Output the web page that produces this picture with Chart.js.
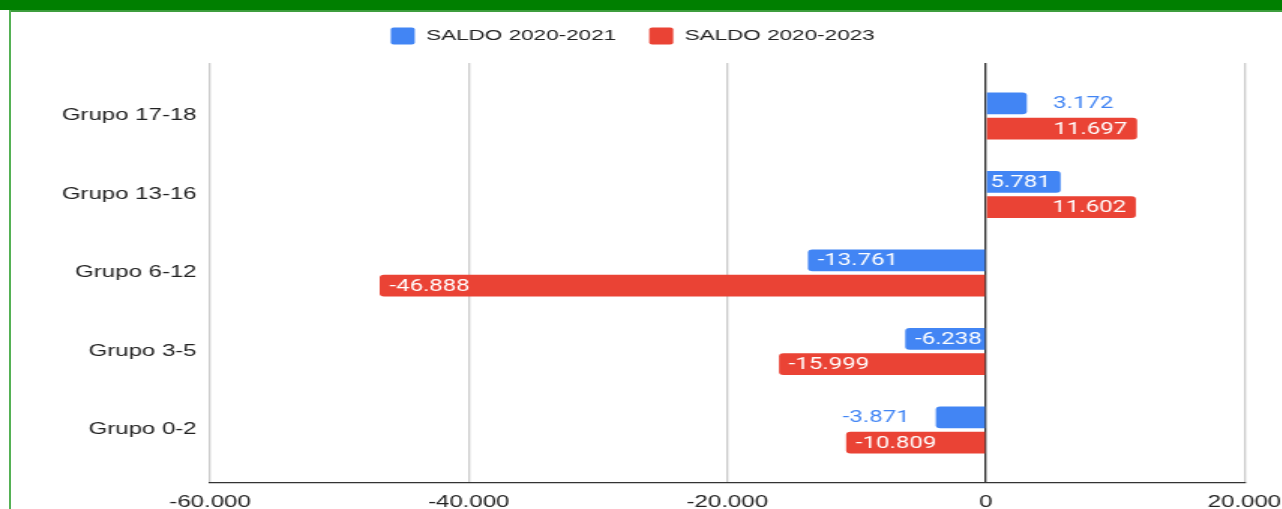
<!DOCTYPE html>
<html>
<head>
<meta charset="utf-8">
<script src="https://cdn.jsdelivr.net/npm/chart.js@4.4.1/dist/chart.umd.min.js"></script>
<style>
  html, body { margin: 0; padding: 0; background: #fff; overflow: hidden; }
  #wrap { position: relative; width: 1282px; height: 509px; overflow: hidden; }
  .band { position: absolute; left: 0; top: 0; width: 1282px; height: 10px; background: #007f00; }
  .band2 { position: absolute; left: 9px; top: 10px; width: 1273px; height: 2px; background: #3d9e3d; }
  .side { position: absolute; left: 9px; top: 10px; width: 2px; height: 499px; background: #55b155; }
  #myChart { position: absolute; left: 0; top: 0; }
</style>
</head>
<body>
<div id="wrap">
  <div class="band"></div>
  <div class="band2"></div>
  <div class="side"></div>
  <canvas id="myChart" width="855" height="530" style="width:1282.5px;height:530px"></canvas>
</div>
<script>
// data
const categories = ["Grupo 17-18", "Grupo 13-16", "Grupo 6-12", "Grupo 3-5", "Grupo 0-2"];
const seriesNames = ["SALDO 2020-2021", "SALDO 2020-2023"];
const saldo2021 = [3172, 5781, -13761, -6238, -3871];
const saldo2023 = [11697, 11602, -46888, -15999, -10809];
const xTicks = [-60000, -40000, -20000, 0, 20000];

const BLUE = "#4285f4";
const RED = "#ea4335";

// 12345 -> "12.345"
const fmt = v => (v < 0 ? "-" : "") + Math.abs(v).toString().replace(/\B(?=(\d{3})+(?!\d))/g, ".");

// value labels: inside the bar end if they fit, else just outside
const barLabels = {
    id: "barLabels",
    afterDatasetsDraw(chart) {
        const ctx = chart.ctx;
        ctx.save();
        ctx.font = "16px Roboto";
        ctx.textBaseline = "middle";
        chart.data.datasets.forEach((ds, di) => {
            chart.getDatasetMeta(di).data.forEach((bar, i) => {
                const v = ds.data[i].x;
                const txt = fmt(v);
                const w = ctx.measureText(txt).width;
                const len = Math.abs(bar.x - bar.base);
                const dir = v < 0 ? -1 : 1;
                if (w + 6 <= len) {
                    ctx.fillStyle = "#fff";
                    ctx.textAlign = dir > 0 ? "right" : "left";
                    ctx.fillText(txt, bar.x - dir * 6.5, bar.y + 1);
                } else {
                    ctx.fillStyle = ds.backgroundColor;
                    ctx.textAlign = dir > 0 ? "left" : "right";
                    ctx.fillText(txt, bar.x + dir * 17.5, bar.y + 1);
                }
            });
        });
        ctx.restore();
    }
};

// a bit more room under the legend
const legendGap = {
    id: "legendGap",
    beforeInit(chart) {
        const fit = chart.legend.fit;
        chart.legend.fit = function () {
            fit.call(this);
            this.height += 8.5;
        };
    }
};

const ctx = document.getElementById("myChart");
new Chart(ctx, {
    type: "bar",
    data: {
        datasets: [
            {
                label: seriesNames[0],
                data: saldo2021.map((v, i) => ({ x: v, y: i })),
                backgroundColor: BLUE,
                borderWidth: 0,
                borderRadius: 3
            },
            {
                label: seriesNames[1],
                data: saldo2023.map((v, i) => ({ x: v, y: i })),
                backgroundColor: RED,
                borderWidth: 0,
                borderRadius: 3
            }
        ]
    },
    options: {
        responsive: false,
        animation: false,
        devicePixelRatio: 1,
        indexAxis: "y",
        categoryPercentage: 0.638,
        barPercentage: 0.868,
        layout: { padding: { left: 14, right: 25.7, top: 5.5, bottom: 7.8 } },
        plugins: {
            legend: {
                position: "top",
                labels: {
                    boxWidth: 16,
                    boxHeight: 17,
                    padding: 22,
                    color: "#222",
                    useBorderRadius: true,
                    borderRadius: 2,
                    font: { family: "'Liberation Sans', Arial", size: 15 }
                }
            },
            tooltip: { enabled: false }
        },
        scales: {
            x: {
                type: "linear",
                min: xTicks[0],
                max: xTicks[xTicks.length - 1],
                afterBuildTicks: s => { s.ticks = xTicks.map(v => ({ value: v })); },
                afterFit: s => { s.paddingLeft = 0; s.paddingRight = 0; },
                grid: {
                    color: c => (c.tick && c.tick.value === 0 ? "#333" : "#ccc"),
                    lineWidth: 1.33,
                    drawTicks: false
                },
                border: { display: true, color: "#333", width: 1.33 },
                ticks: {
                    padding: 10,
                    color: "#222",
                    font: { family: "'Liberation Sans', Arial", size: 16 },
                    callback: v => fmt(v)
                }
            },
            y: {
                type: "linear",
                reverse: true,
                offset: false,
                min: -0.675,
                max: categories.length - 1 + 0.675,
                afterBuildTicks: s => { s.ticks = categories.map((c, i) => ({ value: i })); },
                afterFit: s => { s.width = 126; s.paddingTop = 0; s.paddingBottom = 0; },
                grid: { display: false, drawTicks: false, offset: false },
                border: { display: false },
                ticks: {
                    padding: 9,
                    color: "#222",
                    font: { family: "'Liberation Sans', Arial", size: 16 },
                    callback: v => categories[v]
                }
            }
        }
    },
    plugins: [barLabels, legendGap]
});
</script>
</body>
</html>
